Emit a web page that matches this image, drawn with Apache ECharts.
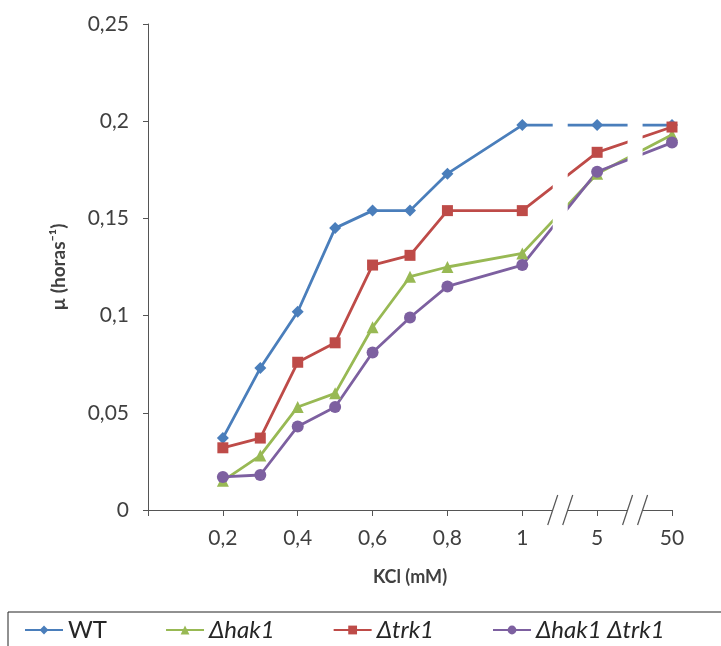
<!DOCTYPE html>
<html>
<head>
<meta charset="utf-8">
<script src="https://cdn.jsdelivr.net/npm/echarts@6/dist/echarts.min.js"></script>
<style>
  html, body { margin: 0; padding: 0; background: #fff; }
  #chart { width: 721px; height: 646px; }
</style>
</head>
<body>
<div id="chart"></div>
<script>
// eje KCl: pasos de 0,1 hasta 1, luego dos saltos (5 y 50 mM)
const categories = ['', '0,1', '0,2', '0,3', '0,4', '0,5', '0,6', '0,7', '0,8', '0,9', '1', '', '5', '', '50'];
const kcl = ['0,2', '0,3', '0,4', '0,5', '0,6', '0,7', '0,8', '1', '5', '50'];
const breakIndex = [11, 13];

const wt        = [0.037, 0.073, 0.102, 0.145, 0.154, 0.154, 0.173, 0.198, 0.198, 0.198];
const hak1      = [0.015, 0.028, 0.053, 0.060, 0.094, 0.120, 0.125, 0.132, 0.173, 0.193];
const trk1      = [0.032, 0.037, 0.076, 0.086, 0.126, 0.131, 0.154, 0.154, 0.184, 0.197];
const hak1trk1  = [0.017, 0.018, 0.043, 0.053, 0.081, 0.099, 0.115, 0.126, 0.174, 0.189];

const names = ['WT', 'Δhak1', 'Δtrk1', 'Δhak1 Δtrk1'];
const colors = ['#4A7EBB', '#98B954', '#BE4B48', '#7D60A0'];
const symbols = ['diamond', 'triangle', 'rect', 'circle'];
const values = [wt, hak1, trk1, hak1trk1];

const FONT = 'Lato, "Open Sans", sans-serif';
const chart = echarts.init(document.getElementById('chart'));

chart.setOption({
  animation: false,
  textStyle: { fontFamily: FONT },
  grid: { left: 148, right: 49, top: 24, bottom: 136 },
  legend: {
    left: 8,
    top: 612,
    width: 900,
    padding: [6, 60, 20, 16],
    borderColor: '#222',
    borderWidth: 1,
    itemWidth: 38,
    itemHeight: 11,
    itemGap: 58,
    textStyle: { fontSize: 24, color: '#262626', fontFamily: FONT },
    data: names.map((n, i) => ({
      name: n,
      textStyle: { fontSize: 24, color: '#262626', fontFamily: FONT, fontStyle: i === 0 ? 'normal' : 'italic' }
    }))
  },
  xAxis: {
    type: 'category',
    boundaryGap: false,
    data: categories,
    name: 'KCl (mM)',
    nameLocation: 'middle',
    nameGap: 58,
    nameTextStyle: { fontSize: 18, fontWeight: 'bold', color: '#404040' },
    axisLine: { lineStyle: { color: '#555', width: 1 } },
    axisTick: { interval: 1, length: 6, lineStyle: { color: '#555' } },
    axisLabel: { interval: 1, margin: 18, fontSize: 21, color: '#404040' },
    splitLine: { show: false }
  },
  yAxis: {
    type: 'value',
    min: 0,
    max: 0.25,
    interval: 0.05,
    name: 'µ (horas⁻¹)',
    nameLocation: 'middle',
    nameGap: 80,
    nameTextStyle: { fontSize: 19, fontWeight: 'bold', color: '#404040' },
    axisLine: { show: true, lineStyle: { color: '#555', width: 1 } },
    axisTick: { show: true, length: 5, lineStyle: { color: '#555' } },
    axisLabel: {
      margin: 19, fontSize: 21, color: '#404040',
      formatter: v => String(+v.toFixed(2)).replace('.', ',')
    },
    splitLine: { show: false }
  },
  series: names.map((n, i) => ({
    name: n,
    type: 'line',
    data: kcl.map((c, j) => [c, values[i][j]]),
    symbol: symbols[i],
    symbolSize: symbols[i] === 'rect' ? 11 : 12,
    color: colors[i],
    lineStyle: { width: 2.8, color: colors[i] },
    itemStyle: { color: colors[i] }
  }))
});

// cortes del eje entre 1-5 y 5-50
function drawBreaks() {
  const y0 = chart.convertToPixel({ yAxisIndex: 0 }, 0);
  const yTop = chart.convertToPixel({ yAxisIndex: 0 }, 0.25);
  const els = [];
  breakIndex.forEach(i => {
    const x = chart.convertToPixel({ xAxisIndex: 0 }, i);
    els.push({
      type: 'rect', silent: true, z: 50,
      shape: { x: x - 7, y: yTop, width: 15, height: y0 - yTop + 2 },
      style: { fill: '#fff' }
    });
    [-7, 8].forEach(d => els.push({
      type: 'line', silent: true, z: 51,
      shape: { x1: x + d - 5, y1: y0 + 15, x2: x + d + 5, y2: y0 - 15 },
      style: { stroke: '#555', lineWidth: 1.2 }
    }));
  });
  chart.setOption({ graphic: els });
}
drawBreaks();
</script>
</body>
</html>
